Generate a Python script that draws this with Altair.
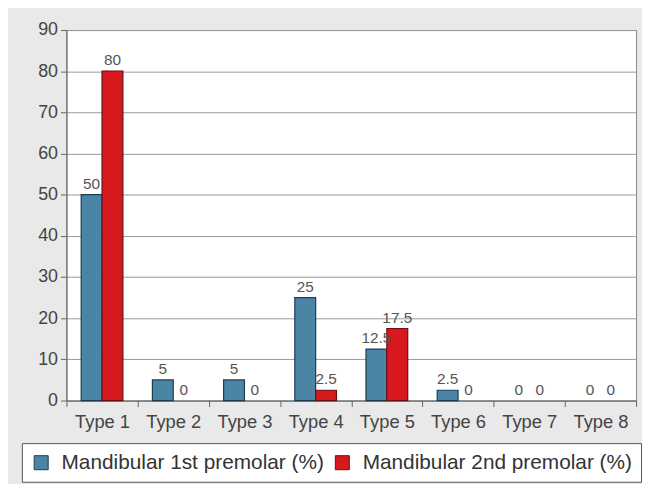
import altair as alt
import pandas as pd

types = ["Type 1", "Type 2", "Type 3", "Type 4", "Type 5", "Type 6", "Type 7", "Type 8"]
series_names = ["Mandibular 1st premolar (%)", "Mandibular 2nd premolar (%)"]
first_premolar = [50, 5, 5, 25, 12.5, 2.5, 0, 0]
second_premolar = [80, 0, 0, 2.5, 17.5, 0, 0, 0]
y_ticks = [0, 10, 20, 30, 40, 50, 60, 70, 80, 90]

rows = []
for t, a, b in zip(types, first_premolar, second_premolar):
    rows.append({"type": t, "series": series_names[0], "value": a, "label": f"{a:g}"})
    rows.append({"type": t, "series": series_names[1], "value": b, "label": f"{b:g}"})
df = pd.DataFrame(rows)

FONT = "Liberation Sans"

x = alt.X("type:N", sort=types, title=None,
          scale=alt.Scale(paddingInner=0, paddingOuter=0),
          axis=alt.Axis(labelAngle=0, tickBand="extent", grid=False,
                        labelFont=FONT, labelFontSize=18.5, labelColor="#444",
                        tickSize=6, tickColor="#666", domainColor="#666",
                        labelPadding=6))
xo = alt.XOffset("series:N", sort=series_names,
                 scale=alt.Scale(domain=series_names, paddingInner=0, paddingOuter=0.707))
y = alt.Y("value:Q", title=None,
          scale=alt.Scale(domain=[0, 90], nice=False),
          axis=alt.Axis(values=y_ticks, grid=True, gridColor="#999",
                        labelFont=FONT, labelFontSize=18, labelColor="#444",
                        tickSize=6, tickColor="#666", domainColor="#666",
                        labelPadding=3))

bars = alt.Chart(df).transform_filter("datum.value > 0").mark_bar(strokeWidth=1.2).encode(
    x=x, xOffset=xo, y=y,
    color=alt.Color("series:N", sort=series_names,
                    scale=alt.Scale(domain=series_names, range=["#4a85a6", "#d7181e"]),
                    legend=alt.Legend(orient="none", legendX=-45, legendY=417,
                                      direction="horizontal", title=None,
                                      fillColor="white", strokeColor="#555",
                                      padding=9, symbolType="square", symbolSize=200,
                                      symbolStrokeColor="#333", symbolStrokeWidth=1,
                                      labelFont=FONT, labelFontSize=21, labelColor="#333",
                                      labelOffset=10, columnPadding=8, labelLimit=500)),
    stroke=alt.Stroke("series:N", sort=series_names,
                      scale=alt.Scale(domain=series_names, range=["#1f3c4f", "#6a1010"]),
                      legend=None),
)

labels = alt.Chart(df).mark_text(font=FONT, fontSize=15.5, color="#555",
                                 baseline="alphabetic", dy=-6).encode(
    x=x, xOffset=xo, y=y, text="label:N"
)

chart = (bars + labels).properties(
    width=575, height=374,
    autosize=alt.AutoSizeParams(type="none"),
    padding={"left": 59, "top": 20, "right": 6, "bottom": 82},
    background="#e9e9e9",
).configure_view(fill="white", stroke="#888", strokeWidth=1)

chart.save("out.html", embed_options={"renderer": "svg", "actions": False})
